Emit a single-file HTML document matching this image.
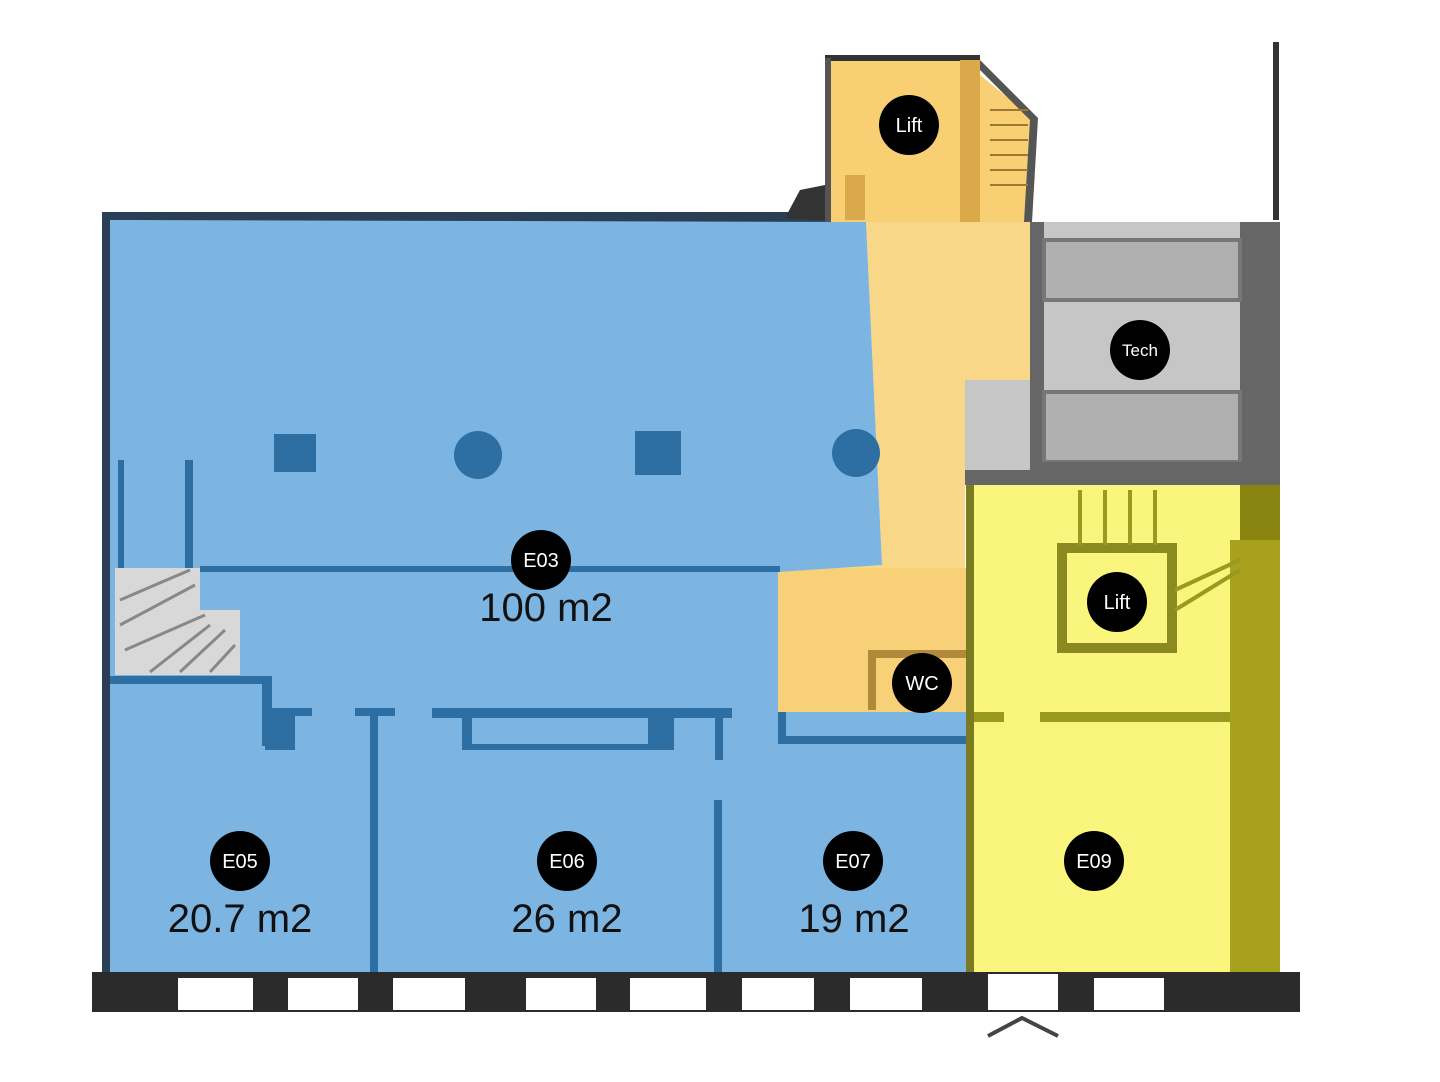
<!DOCTYPE html>
<html><head><meta charset="utf-8"><style>
html,body{margin:0;padding:0;background:#fff;}
svg{display:block;}
text{font-family:"Liberation Sans",sans-serif;}
</style></head><body>
<svg width="1440" height="1082" viewBox="0 0 1440 1082" xmlns="http://www.w3.org/2000/svg">
<rect width="1440" height="1082" fill="#fff"/>
<rect x="102" y="212" width="770" height="10" fill="#2a3f55"/>
<rect x="102" y="212" width="10" height="770" fill="#2a3f55"/>
<polygon points="785,218 800,190 825,185 825,220" fill="#333"/>
<line x1="1276" y1="42" x2="1276" y2="220" stroke="#333" stroke-width="6"/>
<!-- orange (under blue) -->
<polygon points="866,222 1030,222 1030,380 965,380 965,575 778,575 778,568 882,565" fill="#f8d888"/>
<rect x="778" y="568" width="192" height="144" fill="#f8d078"/>
<!-- blue main -->
<polygon points="110,220 866,222 882,565 778,572 778,712 110,712" fill="#7db5e2"/>
<rect x="110" y="680" width="262" height="292" fill="#7db5e2"/>
<rect x="372" y="712" width="346" height="260" fill="#7db5e2"/>
<rect x="718" y="712" width="252" height="260" fill="#7db5e2"/>
<rect x="185" y="460" width="8" height="110" fill="#2e6fa3"/>
<rect x="118" y="460" width="6" height="110" fill="#2e6fa3"/>
<rect x="200" y="566" width="580" height="6" fill="#2e6fa3"/>
<rect x="110" y="676" width="160" height="8" fill="#2e6fa3"/>
<rect x="262" y="676" width="10" height="70" fill="#2e6fa3"/>
<rect x="262" y="708" width="50" height="8" fill="#2e6fa3"/>
<rect x="265" y="714" width="30" height="36" fill="#2e6fa3"/>
<rect x="355" y="708" width="40" height="8" fill="#2e6fa3"/>
<rect x="370" y="710" width="8" height="262" fill="#2e6fa3"/>
<rect x="432" y="708" width="300" height="10" fill="#2e6fa3"/>
<rect x="462" y="716" width="10" height="34" fill="#2e6fa3"/>
<rect x="462" y="744" width="200" height="6" fill="#2e6fa3"/>
<rect x="648" y="716" width="26" height="34" fill="#2e6fa3"/>
<rect x="715" y="710" width="8" height="50" fill="#2e6fa3"/>
<rect x="714" y="800" width="8" height="172" fill="#2e6fa3"/>
<rect x="778" y="712" width="8" height="30" fill="#2e6fa3"/>
<rect x="778" y="736" width="190" height="8" fill="#2e6fa3"/>
<rect x="274" y="434" width="42" height="38" fill="#2e6fa3"/>
<circle cx="478" cy="455" r="24" fill="#2e6fa3"/>
<rect x="635" y="431" width="46" height="44" fill="#2e6fa3"/>
<circle cx="856" cy="453" r="24" fill="#2e6fa3"/>
<polygon points="115,568 200,568 200,610 240,610 240,675 115,675" fill="#d8d8d8"/>
<g stroke="#888" stroke-width="3">
<line x1="120" y1="600" x2="190" y2="570"/><line x1="120" y1="625" x2="195" y2="585"/>
<line x1="125" y1="650" x2="205" y2="615"/><line x1="150" y1="672" x2="210" y2="625"/>
<line x1="180" y1="672" x2="225" y2="630"/><line x1="210" y1="672" x2="235" y2="645"/>
</g>
<rect x="825" y="58" width="155" height="164" fill="#f8cf73"/>
<polygon points="980,75 1035,120 1030,222 980,222" fill="#f8cf73"/>
<rect x="825" y="55" width="155" height="6" fill="#333"/>
<rect x="825" y="58" width="6" height="164" fill="#555"/>
<rect x="960" y="60" width="20" height="162" fill="#d9a94a"/>
<rect x="845" y="175" width="20" height="45" fill="#d9a94a"/>
<polygon points="980,60 1038,118 1032,222 1024,222 1030,120 980,70" fill="#555"/>
<g stroke="#9a7a30" stroke-width="2">
<line x1="990" y1="110" x2="1028" y2="110"/><line x1="990" y1="125" x2="1028" y2="125"/>
<line x1="990" y1="140" x2="1028" y2="140"/><line x1="990" y1="155" x2="1028" y2="155"/>
<line x1="990" y1="170" x2="1028" y2="170"/><line x1="990" y1="185" x2="1028" y2="185"/>
</g>
<rect x="868" y="650" width="100" height="8" fill="#b08a3a"/>
<rect x="868" y="650" width="8" height="60" fill="#b08a3a"/>
<rect x="1030" y="222" width="250" height="263" fill="#c6c6c6"/>
<rect x="965" y="380" width="65" height="105" fill="#c6c6c6"/>
<rect x="965" y="470" width="65" height="15" fill="#666"/>
<rect x="1030" y="222" width="14" height="263" fill="#666"/>
<rect x="1240" y="222" width="40" height="263" fill="#666"/>
<rect x="1044" y="240" width="196" height="60" fill="#b0b0b0" stroke="#777" stroke-width="4"/>
<rect x="1044" y="392" width="196" height="70" fill="#b0b0b0" stroke="#777" stroke-width="4"/>
<rect x="1030" y="462" width="250" height="23" fill="#666"/>
<rect x="970" y="485" width="310" height="487" fill="#faf57c"/>
<rect x="1230" y="540" width="50" height="432" fill="#a8a11e"/>
<rect x="1240" y="485" width="40" height="55" fill="#8a8510"/>
<rect x="966" y="485" width="8" height="487" fill="#7a7a20"/>
<rect x="1062" y="548" width="110" height="100" fill="none" stroke="#8a8a20" stroke-width="10"/>
<rect x="1040" y="712" width="190" height="10" fill="#9a9a20"/>
<rect x="974" y="712" width="30" height="10" fill="#9a9a20"/>
<g stroke="#9a9a20" stroke-width="4">
<line x1="1080" y1="490" x2="1080" y2="545"/><line x1="1105" y1="490" x2="1105" y2="545"/>
<line x1="1130" y1="490" x2="1130" y2="545"/><line x1="1155" y1="490" x2="1155" y2="545"/>
<line x1="1175" y1="610" x2="1240" y2="570"/><line x1="1175" y1="590" x2="1240" y2="560"/>
</g>
<rect x="92" y="972" width="1208" height="40" fill="#2b2b2b"/>
<g fill="#fff">
<rect x="178" y="978" width="75" height="32"/><rect x="288" y="978" width="70" height="32"/>
<rect x="393" y="978" width="72" height="32"/><rect x="526" y="978" width="70" height="32"/>
<rect x="630" y="978" width="76" height="32"/><rect x="742" y="978" width="72" height="32"/>
<rect x="850" y="978" width="72" height="32"/><rect x="988" y="974" width="70" height="36"/>
<rect x="1094" y="978" width="70" height="32"/>
</g>
<polyline points="988,1036 1022,1018 1058,1036" fill="none" stroke="#444" stroke-width="4"/>
<g fill="#000">
<circle cx="909" cy="125" r="30"/><circle cx="1140" cy="350" r="30"/>
<circle cx="541" cy="560" r="30"/><circle cx="1117" cy="602" r="30"/>
<circle cx="922" cy="683" r="30"/><circle cx="240" cy="861" r="30"/>
<circle cx="567" cy="861" r="30"/><circle cx="853" cy="861" r="30"/>
<circle cx="1094" cy="861" r="30"/>
</g>
<g fill="#fff" font-size="20" text-anchor="middle">
<text x="909" y="132">Lift</text><text x="1140" y="356" font-size="17">Tech</text>
<text x="541" y="567">E03</text><text x="1117" y="609">Lift</text>
<text x="922" y="690">WC</text><text x="240" y="868">E05</text>
<text x="567" y="868">E06</text><text x="853" y="868">E07</text>
<text x="1094" y="868">E09</text>
</g>
<g fill="#111" font-size="40" text-anchor="middle">
<text x="546" y="621">100 m2</text><text x="240" y="932">20.7 m2</text>
<text x="567" y="932">26 m2</text><text x="854" y="932">19 m2</text>
</g>
</svg>
</body></html>
